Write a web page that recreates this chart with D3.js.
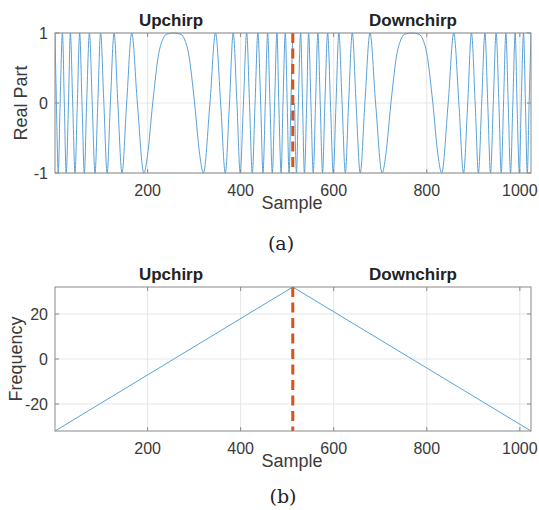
<!DOCTYPE html>
<html>
<head>
<meta charset="utf-8">
<script src="https://cdn.jsdelivr.net/npm/d3@7"></script>
<style>
  body { margin: 0; background: #fff; }
  text { font-family: "Liberation Sans", Arial, sans-serif; }
</style>
</head>
<body>
<div id="chart"></div>
<script>
// Real part of the chirp, read at extrema / zero crossings / shoulders
var upSamples = [1,4,8,12,17,21,25,30,34,39,44,49,54,59,64,69,75,81,87,93,
    99,106,113,120,128,136,145,155,166,178,192,200,211,224,232,240,256,272,280,288,
    301,312,320,334,346,357,367,376,384,392,399,406,413,419,425,431,437,443,448,453,
    458,463,468,473,478,482,487,491,496,500,504,508,512];
var upValues = [1,0,-1,0,1,0,-1,0,1,0,-1,0,1,0,-1,0,1,0,-1,0,
    1,0,-1,0,1,0,-1,0,1,0,-1,-0.74,0,0.71,0.9,0.98,1,0.98,0.9,0.71,
    0,-0.74,-1,0,1,0,-1,0,1,0,-1,0,1,0,-1,0,1,0,-1,0,
    1,0,-1,0,1,0,-1,0,1,0,-1,0,1];
var downSamples = [516,520,524,529,533,537,542,546,551,556,561,566,571,576,581,587,593,599,605,611,
    618,625,632,640,648,657,667,678,690,704,712,723,736,744,752,768,784,792,800,813,
    824,832,846,858,869,879,888,896,904,911,918,925,931,937,943,949,955,960,965,970,
    975,980,985,990,994,999,1003,1008,1012,1016,1020,1024];
var downValues = [0,-1,0,1,0,-1,0,1,0,-1,0,1,0,-1,0,1,0,-1,0,
    1,0,-1,0,1,0,-1,0,1,0,-1,-0.74,0,0.71,0.9,0.98,1,0.98,0.9,0.71,
    0,-0.74,-1,0,1,0,-1,0,1,0,-1,0,1,0,-1,0,1,0,-1,0,
    1,0,-1,0,1,0,-1,0,1,0,-1,0,1];

// Instantaneous frequency
var freqSamples = [1, 512, 1024];
var freqValues = [-32, 32, -32];

var boundary = 512;
var xTicks = [200, 400, 600, 800, 1000];
var realTicks = [-1, 0, 1];
var freqTicks = [-20, 0, 20];

var W = 539, H = 510;
var blue = "#5aa2d8", orange = "#d95319", frame = "#8a8a8a", grid = "#e6e6e6", ink = "#3a3a3a";

var svg = d3.select("#chart").append("svg")
    .attr("width", W)
    .attr("height", H);

svg.append("rect").attr("width", W).attr("height", H).attr("fill", "#fff");

function drawPanel(opt) {
    var x = d3.scaleLinear().domain([1, 1024]).range([55, 531]);
    var y = d3.scaleLinear().domain(opt.yDomain).range([opt.bottom, opt.top]);
    var g = svg.append("g");

    // grid
    g.selectAll(".gx").data(xTicks).enter().append("line")
        .attr("x1", d => x(d)).attr("x2", d => x(d))
        .attr("y1", opt.top).attr("y2", opt.bottom)
        .attr("stroke", grid).attr("stroke-width", 1);
    g.selectAll(".gy").data(opt.yTicks).enter().append("line")
        .attr("x1", 55).attr("x2", 531)
        .attr("y1", d => y(d)).attr("y2", d => y(d))
        .attr("stroke", grid).attr("stroke-width", 1);

    // clip
    svg.append("clipPath").attr("id", opt.id)
        .append("rect")
        .attr("x", 55).attr("y", opt.top - 1)
        .attr("width", 476).attr("height", opt.bottom - opt.top + 2);

    var line = d3.line()
        .x(d => x(d[0]))
        .y(d => y(d[1]))
        .curve(opt.curve);

    opt.series.forEach(function(s) {
        g.append("path")
            .datum(s)
            .attr("clip-path", "url(#" + opt.id + ")")
            .attr("fill", "none")
            .attr("stroke", blue)
            .attr("stroke-width", 1)
            .attr("d", line);
    });

    // dashed boundary
    g.append("line")
        .attr("x1", x(boundary)).attr("x2", x(boundary))
        .attr("y1", opt.top).attr("y2", opt.bottom)
        .attr("stroke", orange).attr("stroke-width", 3)
        .attr("stroke-dasharray", "10,5.5");

    // frame
    g.append("rect")
        .attr("x", 55).attr("y", opt.top)
        .attr("width", 476).attr("height", opt.bottom - opt.top)
        .attr("fill", "none").attr("stroke", frame).attr("stroke-width", 1);

    // inward ticks on all sides
    xTicks.forEach(function(t) {
        g.append("line").attr("x1", x(t)).attr("x2", x(t))
            .attr("y1", opt.bottom).attr("y2", opt.bottom - 4).attr("stroke", frame);
        g.append("line").attr("x1", x(t)).attr("x2", x(t))
            .attr("y1", opt.top).attr("y2", opt.top + 4).attr("stroke", frame);
    });
    opt.yTicks.forEach(function(t) {
        g.append("line").attr("x1", 55).attr("x2", 59)
            .attr("y1", y(t)).attr("y2", y(t)).attr("stroke", frame);
        g.append("line").attr("x1", 531).attr("x2", 527)
            .attr("y1", y(t)).attr("y2", y(t)).attr("stroke", frame);
    });

    // tick labels
    g.selectAll(".tx").data(xTicks).enter().append("text")
        .attr("x", d => x(d)).attr("y", opt.bottom + 23)
        .attr("text-anchor", "middle")
        .attr("font-size", 16).attr("fill", ink)
        .text(d => d);
    g.selectAll(".ty").data(opt.yTicks).enter().append("text")
        .attr("x", 48).attr("y", d => y(d) + 6)
        .attr("text-anchor", "end")
        .attr("font-size", 16).attr("fill", ink)
        .text(d => d);

    // axis labels
    g.append("text")
        .attr("x", 292).attr("y", opt.bottom + 36)
        .attr("text-anchor", "middle")
        .attr("font-size", 18).attr("fill", ink)
        .text("Sample");
    g.append("text")
        .attr("transform", "translate(" + opt.ylabX + "," + ((opt.top + opt.bottom) / 2) + ") rotate(-90)")
        .attr("text-anchor", "middle")
        .attr("font-size", 18).attr("fill", ink)
        .text(opt.ylabel);

    // titles
    [["Upchirp", 171], ["Downchirp", 413]].forEach(function(t) {
        g.append("text")
            .attr("x", t[1]).attr("y", opt.top - 7)
            .attr("text-anchor", "middle")
            .attr("font-size", 17).attr("font-weight", "bold").attr("fill", "#222")
            .text(t[0]);
    });

    // caption
    g.append("text")
        .attr("x", opt.capX).attr("y", opt.capY)
        .attr("text-anchor", "middle")
        .attr("font-size", 19)
        .style("font-family", "'DejaVu Serif', 'Liberation Serif', serif")
        .attr("fill", "#222")
        .text(opt.caption);
}

drawPanel({
    id: "clipA", top: 33, bottom: 173, yDomain: [-1, 1], yTicks: realTicks,
    series: [d3.zip(upSamples, upValues), d3.zip(downSamples, downValues)],
    curve: d3.curveMonotoneX, ylabel: "Real Part", ylabX: 27,
    caption: "(a)", capX: 281, capY: 250
});

drawPanel({
    id: "clipB", top: 287, bottom: 431, yDomain: [-32, 32], yTicks: freqTicks,
    series: [d3.zip(freqSamples, freqValues)],
    curve: d3.curveLinear, ylabel: "Frequency", ylabX: 22,
    caption: "(b)", capX: 283, capY: 503
});
</script>
</body>
</html>
